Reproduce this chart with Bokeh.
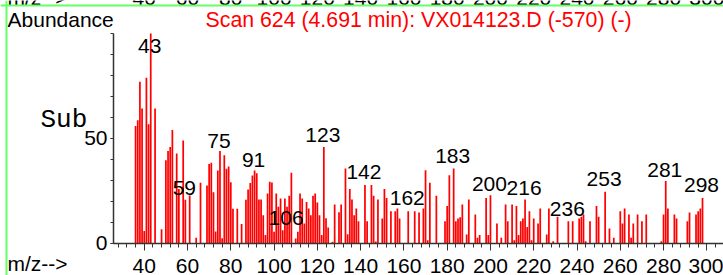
from bokeh.plotting import figure
from bokeh.models import Range1d, FixedTicker, Span, ColumnDataSource
from bokeh.core.properties import value
from bokeh.embed import file_html
from bokeh.resources import INLINE

# ---- data ----
mz = [36, 37, 38, 39, 40, 41, 42, 43, 45, 48,
      50, 51, 52, 53, 55, 56, 58, 59, 61, 64,
      66, 69, 70, 71, 72, 73, 74, 75, 76, 77,
      78, 79, 80, 81, 83, 85, 87, 88, 89, 90,
      91, 92, 93, 94, 95, 96, 97, 98, 99, 100,
      101, 102, 103, 104, 105, 106, 107, 108, 110, 111,
      112, 113, 114, 115, 116, 117, 118, 119, 120, 121,
      122, 123, 124, 125, 127, 128, 130, 131, 133, 134,
      135, 136, 137, 138, 139, 142, 143, 145, 146, 147,
      148, 150, 151, 152, 154, 156, 157, 158, 162, 165,
      167, 169, 170, 171, 172, 175, 179, 180, 181, 183,
      184, 185, 186, 187, 189, 190, 193, 194, 195, 198,
      199, 200, 203, 205, 207, 208, 210, 211, 212, 213,
      214, 215, 216, 217, 218, 219, 220, 222, 223, 226,
      227, 229, 231, 236, 238, 241, 242, 243, 244, 246,
      249, 250, 253, 255, 257, 260, 261, 262, 264, 265,
      266, 268, 270, 272, 279, 280, 281, 282, 285, 286,
      291, 292, 295, 296, 297, 298]
abundance = [56, 58.7, 77, 64.3, 5.9, 78.9, 56.8, 100, 64.3, 6.8,
             39.6, 44, 46, 54, 42.8, 26, 49, 20.8, 22.9, 2.7,
             28.9, 27.6, 37.9, 38.4, 24.4, 5.7, 34.8, 44, 2.5, 42,
             35.6, 36.7, 29.2, 16.5, 16.5, 9.3, 20.8, 25.7, 28.8, 32.4,
             34.8, 33.4, 21, 21, 13.5, 4, 23.8, 29.4, 29, 5.6,
             23.8, 17.5, 21.4, 6.3, 21.4, 17.5, 22.7, 33.7, 2.4, 5.6,
             23.8, 21.4, 9.5, 19.8, 16.7, 13.5, 22.7, 23.8, 19.5, 13.5,
             4, 46, 12, 7.6, 0.8, 18.6, 14.9, 18.6, 35.7, 4.4,
             25.9, 21, 13.5, 16.7, 10.6, 27.8, 10.6, 27.8, 22.7, 1,
             21, 11.9, 25.9, 21.7, 15.4, 15.4, 16.7, 11.9, 15.4, 15.4,
             14.8, 16.7, 34.9, 1.6, 28.9, 22.7, 10.6, 17.8, 32.5, 35.7,
             10.6, 11.9, 12.5, 18.6, 4.3, 21, 13.8, 2.7, 4, 21.7,
             4, 23, 9.5, 2.7, 18.6, 10.6, 18.6, 1.6, 17.9, 4,
             10.6, 11.9, 21, 7.9, 15.4, 1.6, 11.9, 9.5, 16.7, 4.3,
             16.7, 1.1, 12.7, 10.6, 10.6, 11.9, 12.7, 13.8, 1.1, 10.6,
             17.9, 12.7, 24.6, 7.1, 2.7, 15.4, 9.5, 16.7, 13.8, 2.7,
             9.5, 13.8, 10.6, 13.8, 1.1, 13.8, 29.7, 16.7, 13.8, 11.9,
             10.6, 14.8, 13.8, 15.4, 16.7, 21.7]

label_mz = [43, 59, 75, 91, 106, 123, 142, 162, 183, 200, 216, 236, 253, 281, 298]
label_y = [90.5, 22.9, 45.7, 36.2, 9.0, 48.1, 30.5, 18.1, 38.1, 24.8, 23.3, 12.9, 27.6, 31.9, 24.3]
label_text = [str(m) for m in label_mz]

x_tick_values = list(range(40, 301, 20))
x_tick_labels = [str(t) for t in x_tick_values]
x_minor_ticks = list(range(28, 305, 4))
y_tick_values = [0, 50]
y_minor_ticks = list(range(0, 101, 10))

title_text = "Scan 624 (4.691 min): VX014123.D (-570) (-)"
ylabel_text = "Abundance"
xlabel_text = "m/z-->"
sub_text = "Sub"

MZ_START = 25.8      # where the abundance axis stands
MZ_END = 307.7
FONT = "Liberation Sans"
GREEN = "#66ff66"
RAISE = -7           # pixel lift of 21px texts (baseline correction)

p = figure(width=723, height=275, output_backend="svg", toolbar_location=None,
           title=None,
           x_range=Range1d(-26.43, MZ_END), y_range=Range1d(-15.24, 115.71),
           min_border_left=0, min_border_right=0,
           min_border_top=0, min_border_bottom=0)
p.background_fill_color = "white"
p.border_fill_color = "white"
p.outline_line_color = None
p.xgrid.visible = False
p.ygrid.visible = False

# green frame of the panel
p.add_layout(Span(location=113.33, dimension="width", line_color=GREEN, line_width=2))
p.add_layout(Span(location=-23.66, dimension="height", line_color=GREEN, line_width=2))

src = ColumnDataSource(dict(mz=mz, ab=abundance))
p.vbar(x="mz", top="ab", bottom=0, width=0.8, source=src,
       fill_color="#ff0000", line_color=None)

lsrc = ColumnDataSource(dict(x=label_mz, y=label_y, t=label_text))
p.text(x="x", y="y", text="t", source=lsrc, text_align="center",
       text_baseline="alphabetic", text_font=value(FONT),
       text_font_size="21px", text_color="black", x_offset=-1, y_offset=RAISE)

# x axis (drawn at abundance 0)
xa = p.xaxis[0]
xa.fixed_location = 0
xa.bounds = (MZ_START, MZ_END)
xa.ticker = FixedTicker(ticks=x_tick_values, minor_ticks=x_minor_ticks)
xa.axis_line_color = "#333333"
xa.axis_line_width = 1.5
xa.major_tick_in = 0
xa.major_tick_out = 7
xa.minor_tick_in = 0
xa.minor_tick_out = 4
xa.major_tick_line_color = "#333333"
xa.minor_tick_line_color = "#333333"
xa.major_label_standoff = 9
xa.major_label_text_font = FONT
xa.major_label_text_font_size = "21px"
xa.major_label_text_color = "black"

# y axis (drawn at the start of the m/z scale)
ya = p.yaxis[0]
ya.fixed_location = MZ_START
ya.bounds = (0, 100)
ya.ticker = FixedTicker(ticks=y_tick_values, minor_ticks=y_minor_ticks)
ya.axis_line_color = "#333333"
ya.axis_line_width = 1.5
ya.major_tick_in = 0
ya.major_tick_out = 3
ya.minor_tick_in = 0
ya.minor_tick_out = 3
ya.major_tick_line_color = "#333333"
ya.minor_tick_line_color = "#333333"
ya.major_label_standoff = 3
ya.major_label_text_font = FONT
ya.major_label_text_font_size = "21px"
ya.major_label_text_color = "black"

# free texts
p.text(x=[-23.19], y=[103.33], text=[ylabel_text], text_font=value(FONT),
       text_font_size="21px", text_color="black", text_baseline="alphabetic",
       y_offset=RAISE)
p.text(x=[68.32], y=[103.0], text=[title_text], text_font=value(FONT),
       text_font_size="21.3px", text_color="#ff0000", text_baseline="alphabetic",
       y_offset=RAISE)
p.text(x=[-7.94], y=[54.76], text=[sub_text], text_font=value("Liberation Mono"),
       text_font_size="26px", text_color="black", text_baseline="alphabetic",
       y_offset=-8.5)
p.text(x=[-23.19], y=[-12.86], text=[xlabel_text], text_font=value(FONT),
       text_font_size="21px", text_color="black", text_baseline="alphabetic",
       y_offset=RAISE)

# bottom of the previous panel's m/z scale, cut by the window top
p.text(x=[-23.19], y=[113.8], text=[xlabel_text], text_font=value(FONT),
       text_font_size="21px", text_color="black", text_baseline="alphabetic",
       y_offset=RAISE)
p.text(x=x_tick_values, y=[113.8] * len(x_tick_values), text=x_tick_labels,
       text_font=value(FONT), text_font_size="21px", text_color="black",
       text_align="center", text_baseline="alphabetic", y_offset=RAISE)

open("out.html", "w").write(file_html(p, INLINE))
